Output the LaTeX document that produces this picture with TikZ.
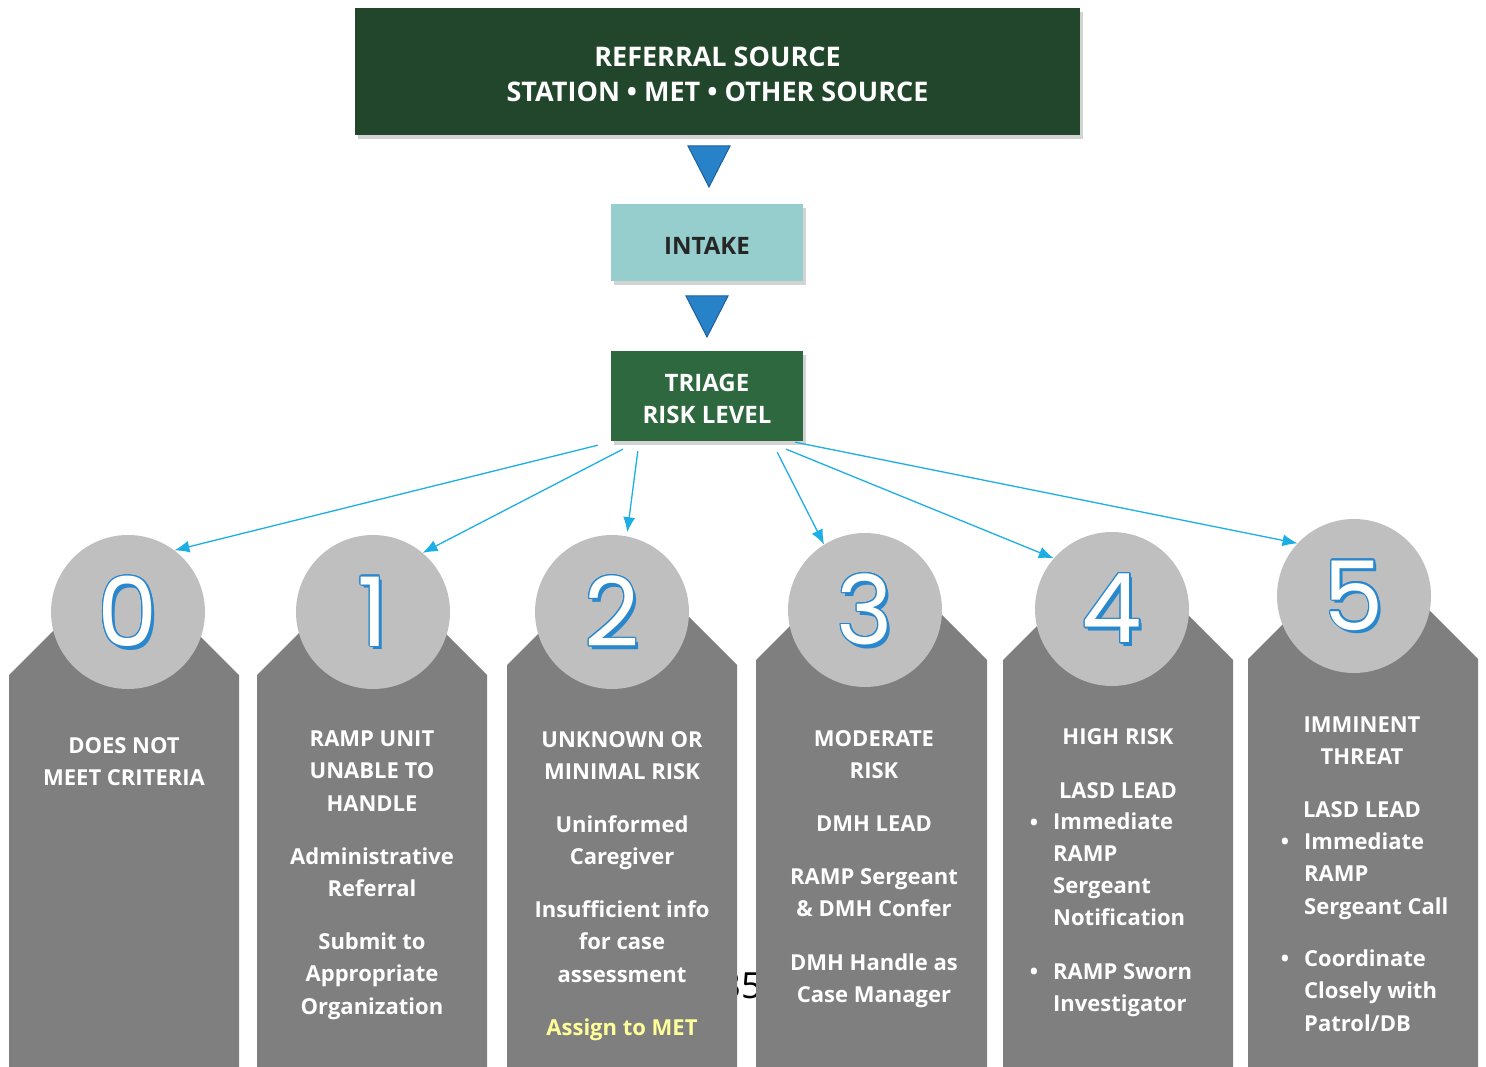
\documentclass[tikz,border=0pt]{standalone}
\usepackage{fontspec}
\setmainfont{Open Sans}
\newfontfamily\digitfont{Poppins}
\usepackage{contour}
\contourlength{1.3pt}
\usetikzlibrary{arrows.meta, shadows}

\definecolor{srcgreen}{RGB}{33,70,43}
\definecolor{intakeblue}{RGB}{150,206,206}
\definecolor{triagegreen}{RGB}{46,104,62}
\definecolor{triblue}{RGB}{40,130,200}
\definecolor{triedge}{RGB}{30,95,160}
\definecolor{arrowcyan}{RGB}{28,174,228}
\definecolor{colgray}{RGB}{127,127,127}
\definecolor{circgray}{RGB}{191,191,191}
\definecolor{digitblue}{RGB}{40,135,205}
\definecolor{metyellow}{RGB}{255,255,153}

\begin{document}
\begin{tikzpicture}[x=1pt,y=-1pt,
  flowbox/.style={inner sep=0pt, drop shadow={shadow xshift=3pt,shadow yshift=-4pt,opacity=.35}},
  boxtext/.style={align=center, inner sep=0pt, yshift=-3pt, font=\fontsize{24}{32}\selectfont\bfseries},
  tri/.style={fill=triblue, draw=triedge, line width=1pt},
  riskcircle/.style={circle, fill=circgray, minimum size=154pt, inner sep=0pt},
  digit/.style={font=\digitfont\fontsize{96}{96}\selectfont, inner sep=0pt},
  coltext/.style={text=white, font=\fontsize{22}{32.5}\selectfont\bfseries, align=center, anchor=base, inner sep=0pt},
  riskarrow/.style={arrowcyan, line width=1.3pt, -{Latex[length=15pt,width=12pt]}}]
\useasboundingbox (0,0) rectangle (1486,1067);

% top of the flow
\node[flowbox, fill=srcgreen, minimum width=725pt, minimum height=127pt] (src) at (717.5,71.5) {};
\node[boxtext, text=white, font=\fontsize{27}{35}\selectfont\bfseries] (srctxt) at (src)
  {REFERRAL SOURCE\\STATION \textbullet{} MET \textbullet{} OTHER SOURCE};
\filldraw[tri] (688,146) -- (730,146) -- (709,187) -- cycle;
\node[flowbox, fill=intakeblue, minimum width=192pt, minimum height=77pt] (intake) at (707,242.5) {};
\node[boxtext, text=black!85] (intaketxt) at (intake) {INTAKE};
\filldraw[tri] (686,296) -- (728,296) -- (707,337) -- cycle;
\node[flowbox, fill=triagegreen, minimum width=192pt, minimum height=90pt] (triage) at (707,396) {};
\node[boxtext, text=white] (triagetxt) at (triage) {TRIAGE\\RISK LEVEL};

% page number behind the columns
\node[font=\fontsize{36}{36}\selectfont, anchor=base, inner sep=0pt] (pg) at (741,998) {35};

% risk columns
\foreach \n/\xl/\xr/\sh/\cx/\cy in {0/9/239/675/128/612, 1/257/487/675/373/612,
    2/507/737/665/612/612, 3/756/987/660/865/610, 4/1003/1233/660/1112/609,
    5/1248/1478/659/1354/596}{
  \fill[colgray] (\xl,1067) -- (\xl,\sh) -- ({(\xl+\xr)/2},{\sh-(\xr-\xl)/2})
    -- (\xr,\sh) -- (\xr,1067) -- cycle;
  \node[riskcircle] (c\n) at (\cx,\cy) {};
  \node[digit, text=digitblue] at ([shift={(3,3)}]c\n.center) {\n};
  \node[digit, text=white] at (c\n.center) {\contour{digitblue}{\n}};
}

% column texts (placed at the baseline of the last line)
\node[coltext] (t0a) at (124,785.5) {DOES NOT\\MEET CRITERIA};

\node[coltext] (t1a) at (372,811) {RAMP UNIT\\UNABLE TO\\HANDLE};
\node[coltext] (t1b) at (372,896.5) {Administrative\\Referral};
\node[coltext] (t1c) at (372,1014) {Submit to\\Appropriate\\Organization};

\node[coltext] (t2a) at (622,779.5) {UNKNOWN OR\\MINIMAL RISK};
\node[coltext] (t2b) at (622,864.5) {Uninformed\\Caregiver};
\node[coltext] (t2c) at (622,982) {Insufficient info\\for case\\assessment};
\node[coltext, text=metyellow] (t2d) at (622,1035) {Assign to MET};

\node[coltext] (t3a) at (874,778.5) {MODERATE\\RISK};
\node[coltext] (t3b) at (874,831) {DMH LEAD};
\node[coltext] (t3c) at (874,916.5) {RAMP Sergeant\\\& DMH Confer};
\node[coltext] (t3d) at (874,1002.5) {DMH Handle as\\Case Manager};

\node[coltext] (t4a) at (1118,744) {HIGH RISK};
\node[coltext] (t4b) at (1118,798) {LASD LEAD};
\node[coltext] (b4c) at (1034,830) {\textbullet};
\node[coltext, anchor=base west, align=left, font=\fontsize{22}{31.7}\selectfont\bfseries] (t4c) at (1053,925) {Immediate\\RAMP\\Sergeant\\Notification};
\node[coltext] (b4d) at (1034,979) {\textbullet};
\node[coltext, anchor=base west, align=left] (t4d) at (1053,1011.5) {RAMP Sworn\\Investigator};

\node[coltext] (t5a) at (1362,764.5) {IMMINENT\\THREAT};
\node[coltext] (t5b) at (1362,817) {LASD LEAD};
\node[coltext] (b5c) at (1285,849) {\textbullet};
\node[coltext, anchor=base west, align=left] (t5c) at (1304,914) {Immediate\\RAMP\\Sergeant Call};
\node[coltext] (b5d) at (1285,966) {\textbullet};
\node[coltext, anchor=base west, align=left] (t5d) at (1304,1031) {Coordinate\\Closely with\\Patrol/DB};

% arrows from triage
\coordinate (s0) at ([shift={(-13,4)}]triage.south west);
\coordinate (s1) at ([shift={(12,8)}]triage.south west);
\coordinate (s2) at ([shift={(27,10)}]triage.south west);
\coordinate (s3) at ([shift={(-26,11)}]triage.south east);
\coordinate (s4) at ([shift={(-17,8)}]triage.south east);
\coordinate (s5) at ([shift={(-8,1)}]triage.south east);
\draw[riskarrow] (s0) -- (c0.53);
\draw[riskarrow] (s1) -- (c1.50);
\draw[riskarrow, shorten >=4pt] (s2) -- (c2.79);
\draw[riskarrow] (s3) -- (c3.122);
\draw[riskarrow] (s4) -- (c4.139);
\draw[riskarrow] (s5) -- (c5.137);
\end{tikzpicture}
\end{document}
